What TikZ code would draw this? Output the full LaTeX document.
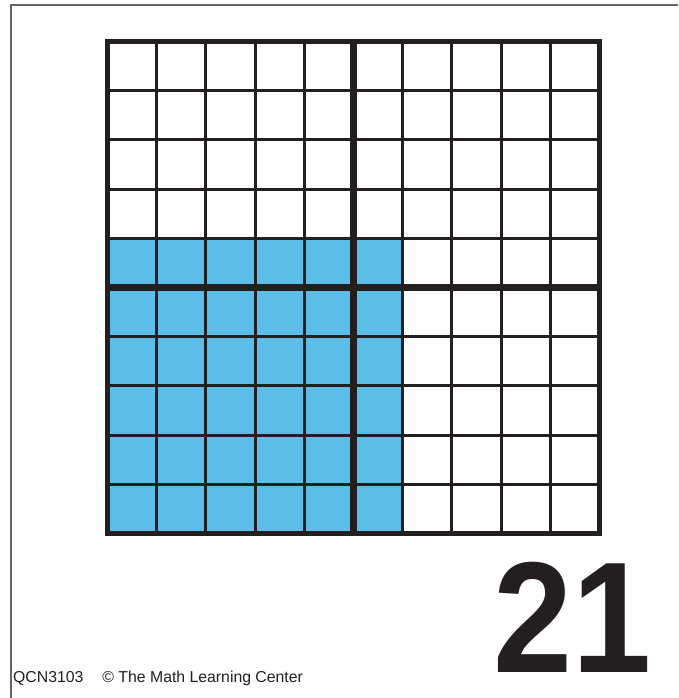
\documentclass[tikz,border=0pt]{standalone}
\usepackage{fontspec}
\setmainfont{Liberation Sans}
\definecolor{cellblue}{RGB}{93,189,233}
\definecolor{frame}{RGB}{100,100,100}
\definecolor{ink}{RGB}{35,31,32}
\tikzset{
  thinline/.style={draw=ink,line width=3pt},
  midline/.style={draw=ink,line width=7.5pt},
  outerline/.style={draw=ink,line width=5.5pt},
}
\begin{document}
\begin{tikzpicture}[x=1pt,y=-1pt]
\useasboundingbox (0,0) rectangle (678,698);
\fill[white] (0,0) rectangle (678,698);
\draw[frame,line width=2pt] (11,698) -- (11,5) -- (678,5);
\def\cs{49.2}
\def\xo{107.5}
\def\yo{41.5}
\fill[cellblue] (\xo,\yo+4*\cs) rectangle (\xo+6*\cs,\yo+10*\cs);
\foreach \i in {1,2,3,4,6,7,8,9}{
  \draw[thinline] (\xo+\i*\cs,\yo) -- (\xo+\i*\cs,\yo+10*\cs);
  \draw[thinline] (\xo,\yo+\i*\cs) -- (\xo+10*\cs,\yo+\i*\cs);
}
\draw[midline] (\xo+5*\cs,\yo) -- (\xo+5*\cs,\yo+10*\cs);
\draw[midline] (\xo,\yo+5*\cs) -- (\xo+10*\cs,\yo+5*\cs);
\draw[outerline] (\xo,\yo) rectangle (\xo+10*\cs,\yo+10*\cs);
\node[anchor=base east,inner sep=0pt,text=ink,font=\fontsize{158}{158}\selectfont\bfseries] (num) at (652,672) {\scalebox{0.9}[1]{21}};
\node[anchor=base west,inner sep=0pt,text=ink,font=\fontsize{15.8}{16}\selectfont] (foot) at (13,682) {QCN3103\hspace{19pt}© The Math Learning Center};
\end{tikzpicture}
\end{document}
